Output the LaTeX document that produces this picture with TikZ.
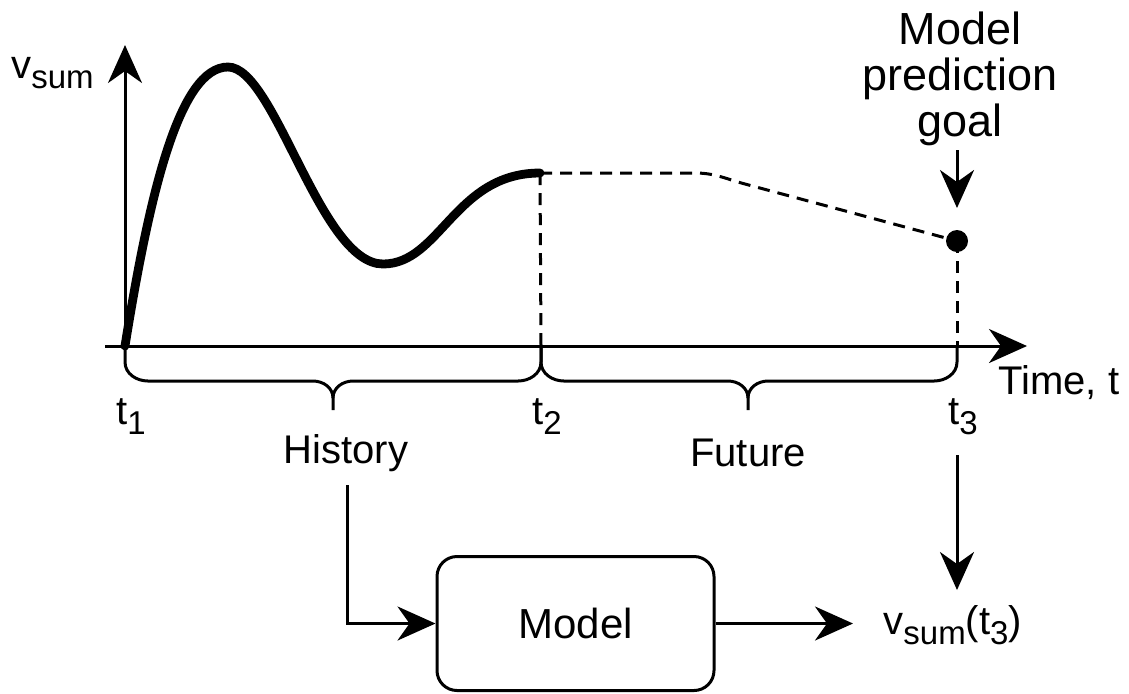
\documentclass[tikz,border=0pt]{standalone}
\usepackage{fontspec}
\setmainfont{Liberation Sans}
\usetikzlibrary{arrows.meta}
\newcommand{\mysub}[1]{\raisebox{-0.5ex}{\fontsize{16.5}{16.5}\selectfont #1}}
\begin{document}
\begin{tikzpicture}[x=0.5pt,y=-0.5pt,
  line/.style={line width=1.5pt},
  arr/.style={line width=1.5pt,-{Stealth[length=19pt,width=17pt,inset=6pt]}},
  dsh/.style={line width=1.5pt,dash pattern=on 6pt off 4pt},
  lbl/.style={font=\fontsize{20}{23}\selectfont, inner sep=0pt},
  curve/.style={line width=4.4pt,line cap=round}
]
\useasboundingbox (0,0) rectangle (1129,693);

% axes
\coordinate (O) at (125,346);
\coordinate (Ytop) at (125,45);
\coordinate (Xl) at (105,346);
\coordinate (Xr) at (1027,346);
\draw[arr] (O) -- (Ytop);
\draw[arr] (Xl) -- (Xr);

% curve
\coordinate (P0) at (125,346);
\coordinate (P1) at (228,67);
\coordinate (P2) at (383,264);
\coordinate (P3) at (540,173);
\draw[curve] (P0) .. controls (150,190) and (180,67) .. (P1)
  .. controls (275,67) and (320,264) .. (P2)
  .. controls (440,264) and (455,173) .. (P3);

% prediction
\node[circle,fill,inner sep=0pt,minimum size=11pt] (dot) at (957,241) {};
\coordinate (T2) at (541,346);
\coordinate (T3) at (957,346);
\draw[dsh] (P3) -- (695,173) to[out=0,in=165] (745,184) -- (dot.center);
\draw[dsh] (P3) -- (T2);
\draw[dsh] (dot.center) -- (T3);

% braces
\coordinate (B1) at (333,410);
\coordinate (B2) at (748,410);
\draw[line] (O) -- (125,362) to[out=-90,in=180] (148,381) -- (313,381)
  to[out=0,in=90] (B1|-0,398) -- (B1);
\draw[line] (B1|-0,398) to[out=90,in=180] (353,381) -- (518,381)
  to[out=0,in=-90] (541,362) -- (T2);
\draw[line] (T2) -- (541,362) to[out=-90,in=180] (564,381) -- (728,381)
  to[out=0,in=90] (B2|-0,398) -- (B2);
\draw[line] (B2|-0,398) to[out=90,in=180] (768,381) -- (934,381)
  to[out=0,in=-90] (957,362) -- (T3);

% labels
\node[lbl,anchor=base west] (vs) at (11,78) {v\mysub{sum}};
\node[lbl,anchor=base] (t1) at (131,424) {t\mysub{1}};
\node[lbl,anchor=base] (t2) at (547,424) {t\mysub{2}};
\node[lbl,anchor=base] (t3) at (963,424) {t\mysub{3}};
\node[lbl,anchor=base west] (time) at (998,394) {Time, t};
\node[lbl] (hist) at (346,453) {History};
\node[lbl] (fut) at (748,453) {Future};
\node[lbl,align=center,font=\fontsize{22.5}{23}\selectfont] (goal) at (960,79) {Model\\prediction\\goal};

% model
\node[lbl,font=\fontsize{21}{24}\selectfont,draw,line width=1.5pt,rounded corners=10pt,minimum width=138.5pt,minimum height=67pt] (model) at (575.5,623.5) {Model};
\node[lbl,anchor=base west] (vt) at (883,634) {v\mysub{sum}(t\mysub{3})};

% connectors
\coordinate (hs) at (347,485);
\draw[arr] (hs) |- (model.west);
\coordinate (me) at (853,623.5);
\draw[arr] (model.east) -- (me);
\coordinate (t3s) at (957,455);
\coordinate (t3e) at (957,590);
\draw[arr] (t3s) -- (t3e);
\coordinate (g1) at (957,150);
\coordinate (g2) at (957,208);
\draw[arr] (g1) -- (g2);
\end{tikzpicture}
\end{document}
